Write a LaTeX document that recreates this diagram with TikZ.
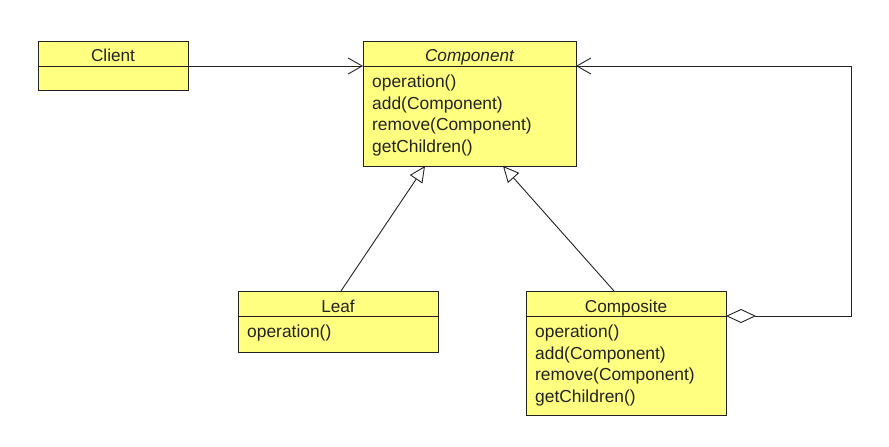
\documentclass[tikz,border=0pt]{standalone}
\usepackage{fontspec}
\setmainfont{Liberation Sans}
\usetikzlibrary{arrows.meta}
\definecolor{clsfill}{RGB}{255,255,128}
\definecolor{ink}{RGB}{35,35,35}
\tikzset{
  cls/.style={draw=ink, line width=1pt, fill=clsfill, anchor=north west, inner sep=0pt},
  title/.style={font=\fontsize{17.2}{20}\selectfont, text=ink, inner sep=0pt, anchor=base},
  member/.style={font=\fontsize{17.4}{20}\selectfont, text=ink, anchor=base west, inner sep=0pt},
  conn/.style={draw=ink, line width=0.9pt},
  assoc/.style={conn, -{Straight Barb[length=14pt,width=16pt,line width=0.9pt]}},
  gen/.style={conn, -{Triangle[open,length=16pt,width=15pt,line width=0.9pt]}},
  agg/.style={conn, {Diamond[length=30pt,width=14pt,line width=0.9pt,fill=white]}-{Straight Barb[length=14pt,width=16pt,line width=0.9pt]}},
}
\begin{document}
\begin{tikzpicture}[x=1pt,y=-1pt]
\useasboundingbox (0,0) rectangle (889,447);
% Client
\node[cls, minimum width=150pt, minimum height=49pt] (client) at (38,41) {};
\draw[conn] (38,66) coordinate (clsep) -- (188,66) coordinate (clsepe);
\node[title] (clientt) at (113,61.7) {Client};
% Component
\node[cls, minimum width=213pt, minimum height=125pt] (comp) at (363,41) {};
\draw[conn] (363,66) coordinate (cosep) -- (576,66) coordinate (cosepe);
\node[title] (compt) at (469.5,61.7) {\itshape Component};
\node[member] (compm1) at (372,87.5) {operation()};
\node[member] (compm2) at (372,109) {add(Component)};
\node[member] (compm3) at (372,130.5) {remove(Component)};
\node[member] (compm4) at (372,152) {getChildren()};
% Leaf
\node[cls, minimum width=200pt, minimum height=61pt] (leaf) at (238,291) {};
\draw[conn] (238,316) -- (438,316);
\node[title] (leaft) at (338,312) {Leaf};
\node[member] (leafm1) at (247,337.5) {operation()};
% Composite
\node[cls, minimum width=200pt, minimum height=124pt] (compo) at (526,291) {};
\draw[conn] (526,316) coordinate (cpsepw) -- (726,316) coordinate (cpsep);
\node[title] (compot) at (626,312) {Composite};
\node[member] (compom1) at (535,337.5) {operation()};
\node[member] (compom2) at (535,359) {add(Component)};
\node[member] (compom3) at (535,380.5) {remove(Component)};
\node[member] (compom4) at (535,402) {getChildren()};
% connectors
\draw[assoc] (clsepe) -- (cosep);
\coordinate (leaftop) at (341,291);
\coordinate (leaftip) at (425,166);
\coordinate (compotop) at (614,291);
\coordinate (compotip) at (503,166);
\draw[gen] (leaftop) -- (leaftip);
\draw[gen] (compotop) -- (compotip);
\coordinate (c1) at (851,316);
\coordinate (c2) at (851,66);
\draw[agg] (cpsep) -- (c1) -- (c2) -- (cosepe);
\end{tikzpicture}
\end{document}
